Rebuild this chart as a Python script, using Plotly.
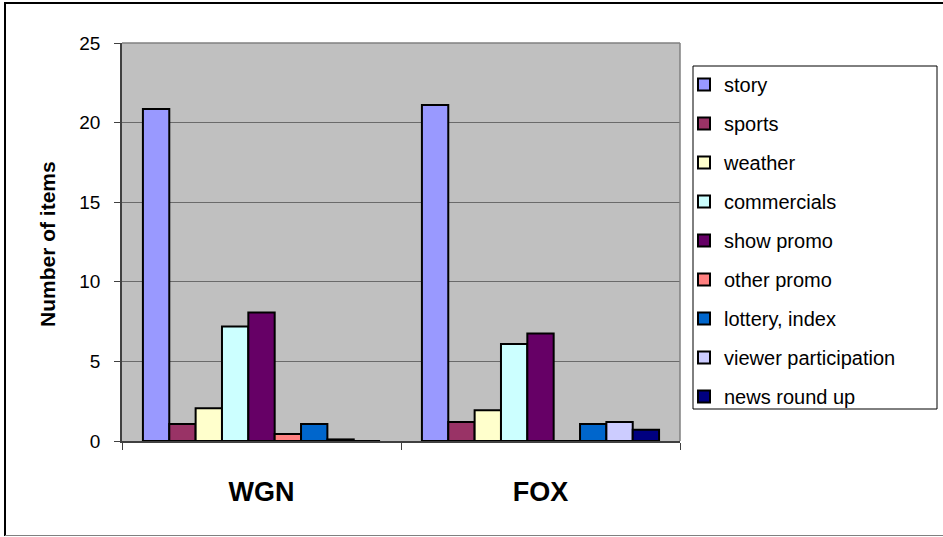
import plotly.graph_objects as go

categories = ["WGN", "FOX"]
series_names = ["story", "sports", "weather", "commercials", "show promo",
                "other promo", "lottery, index", "viewer participation", "news round up"]
story = [20.85, 21.1]
sports = [1.07, 1.19]
weather = [2.06, 1.93]
commercials = [7.2, 6.1]
show_promo = [8.07, 6.75]
other_promo = [0.44, 0.0]
lottery_index = [1.07, 1.07]
viewer_participation = [0.1, 1.19]
news_round_up = [0.0, 0.71]
colors = ["#9999FF", "#993366", "#FFFFCC", "#CCFFFF", "#660066",
          "#FF8080", "#0066CC", "#CCCCFF", "#000080"]
y_ticks = [0, 5, 10, 15, 20, 25]

series_values = [story, sports, weather, commercials, show_promo,
                 other_promo, lottery_index, viewer_participation, news_round_up]

fig = go.Figure()
for i, (name, vals, col) in enumerate(zip(series_names, series_values, colors)):
    fig.add_trace(go.Bar(
        x=categories, y=vals, name=name, legendgroup=name,
        marker=dict(color=col, line=dict(color="black", width=2)),
    ))

W, H = 943, 537
L, R, T, B = 122, 680, 43, 441
def px(x):
    return (x - L) / (R - L)
def py(y):
    return (B - y) / (B - T)

shapes = [
    # outer chart border
    dict(type="line", xref="paper", yref="paper", x0=px(5), x1=px(5), y0=py(2), y1=py(536),
         line=dict(color="black", width=2)),
    dict(type="line", xref="paper", yref="paper", x0=px(5), x1=px(945), y0=py(3), y1=py(3),
         line=dict(color="black", width=2)),
    dict(type="line", xref="paper", yref="paper", x0=px(5), x1=px(945), y0=py(535.5), y1=py(535.5),
         line=dict(color="#808080", width=1)),
    # plot area top/right border
    dict(type="line", xref="paper", yref="paper", x0=0, x1=1, y0=1, y1=1,
         line=dict(color="#808080", width=1.5)),
    dict(type="line", xref="paper", yref="paper", x0=1, x1=1, y0=0, y1=1,
         line=dict(color="#808080", width=1.5)),
    # legend box
    dict(type="rect", xref="paper", yref="paper", x0=px(693), x1=px(937), y0=py(409), y1=py(66),
         line=dict(color="black", width=1), fillcolor="white", layer="below"),
]

fig.update_layout(
    width=W, height=H,
    margin=dict(l=L, r=W - R, t=T, b=H - B, autoexpand=False),
    paper_bgcolor="white",
    plot_bgcolor="#C0C0C0",
    barmode="group",
    bargap=0.15,
    bargroupgap=0,
    font=dict(family="Liberation Sans, Arial, sans-serif", color="black"),
    showlegend=True,
    legend=dict(
        x=px(684), xanchor="left", y=py(65), yanchor="top",
        bgcolor="rgba(0,0,0,0)", borderwidth=0,
        font=dict(size=20, family="Liberation Sans, Arial, sans-serif"),
        traceorder="grouped", tracegroupgap=10,
        itemclick=False,
    ),
    shapes=shapes,
    annotations=[dict(
        text="<b>Number of items</b>", textangle=-90, showarrow=False,
        xref="paper", yref="paper", x=px(47), y=py(244),
        xanchor="center", yanchor="middle",
        font=dict(size=21, family="Liberation Sans, Arial, sans-serif"),
    )],
    xaxis=dict(
        type="category",
        showline=True, linecolor="#404040", linewidth=1.5,
        ticks="outside", ticklen=7, tickcolor="#404040", tickson="boundaries",
        tickfont=dict(size=27, family="Liberation Sans, Arial, sans-serif", weight="bold"),
        ticklabelstandoff=26,
        showgrid=False, zeroline=False,
    ),
    yaxis=dict(
        range=[0, 25], tickvals=y_ticks,
        showline=True, linecolor="#404040", linewidth=1.5,
        ticks="outside", ticklen=6, tickcolor="#404040",
        tickfont=dict(size=19, family="Liberation Sans, Arial, sans-serif"),
        ticklabelstandoff=10,
        showgrid=True, gridcolor="#6a6a6a", gridwidth=1.2,
        zeroline=False,
    ),
)

fig.write_html("out.html", config={"displayModeBar": False},
               post_script="document.body.style.margin='0';document.body.style.padding='0';")
